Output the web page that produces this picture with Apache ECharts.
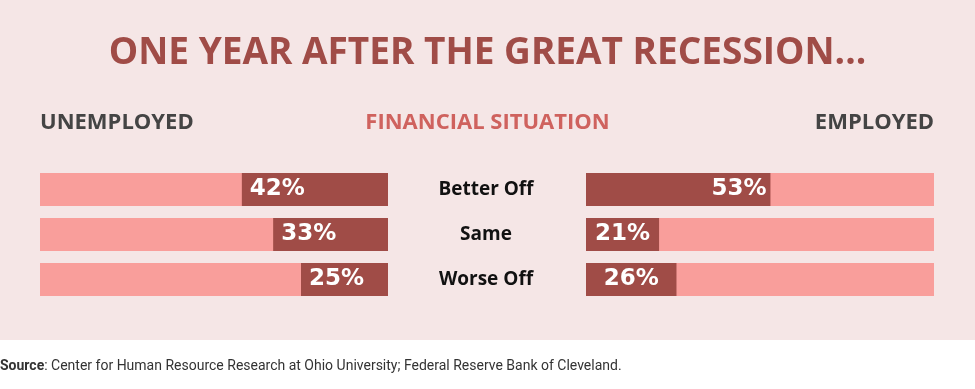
<!DOCTYPE html>
<html><head><meta charset="utf-8">
<script src="https://cdn.jsdelivr.net/npm/echarts@6/dist/echarts.min.js"></script>
<style>html,body{margin:0;padding:0;background:#fff}#c{width:975px;height:389px}</style>
</head><body><div id="c"></div>
<script>
const categories = ['Better Off', 'Same', 'Worse Off'];
const unemployed = [42, 33, 25];
const employed = [53, 21, 26];
const titleText = 'ONE YEAR AFTER THE GREAT RECESSION...';
const sourceText = 'Center for Human Resource Research at Ohio University; Federal Reserve Bank of Cleveland.';

const DARK = '#a04c47', LIGHT = '#f99e9b', BG = '#f5e6e6';
const pctLabel = {show: true, color: '#fff', fontFamily: 'DejaVu Sans', fontWeight: 'bold', fontSize: 23, formatter: '{c}%'};

const chart = echarts.init(document.getElementById('c'));
chart.setOption({
  backgroundColor: '#fff',
  animation: false,
  graphic: [
    {type: 'rect', z: -10, shape: {x: 0, y: 0, width: 975, height: 340}, style: {fill: BG}},
    {type: 'text', left: 'center', top: 35, style: {text: titleText, fill: DARK, font: 'bold 37px "Open Sans"'}},
    {type: 'text', left: 40, top: 112, style: {text: 'UNEMPLOYED', fill: '#444', font: 'bold 22px "Open Sans"'}},
    {type: 'text', left: 'center', top: 112, style: {text: 'FINANCIAL SITUATION', fill: '#cf625e', font: 'bold 22px "Open Sans"'}},
    {type: 'text', right: 41, top: 112, style: {text: 'EMPLOYED', fill: '#444', font: 'bold 22px "Open Sans"'}},
    {type: 'text', left: 0, top: 359, style: {text: '{b|Source}: ' + sourceText, fill: '#333', font: '14px "Roboto"',
      rich: {b: {fontWeight: 'bold', fontFamily: 'Roboto', fontSize: 14, fill: '#333'}}}}
  ],
  grid: [
    {left: 40, width: 348, top: 167, height: 135},
    {left: 586, width: 348, top: 167, height: 135}
  ],
  xAxis: [
    {gridIndex: 0, type: 'value', min: 0, max: 100, inverse: true, show: false},
    {gridIndex: 1, type: 'value', min: 0, max: 100, show: false}
  ],
  yAxis: [
    {gridIndex: 0, type: 'category', data: categories, inverse: true, show: false},
    {gridIndex: 1, type: 'category', data: categories, inverse: true,
      axisLine: {show: false}, axisTick: {show: false},
      axisLabel: {align: 'center', margin: 100, color: '#111', fontFamily: 'Open Sans', fontWeight: 'bold', fontSize: 19}}
  ],
  series: [
    {type: 'bar', xAxisIndex: 0, yAxisIndex: 0, barWidth: 33, showBackground: true,
      backgroundStyle: {color: LIGHT}, itemStyle: {color: DARK},
      label: Object.assign({}, pctLabel, {position: 'insideLeft', distance: 8}),
      data: unemployed},
    {type: 'bar', xAxisIndex: 1, yAxisIndex: 1, barWidth: 33, showBackground: true,
      backgroundStyle: {color: LIGHT}, itemStyle: {color: DARK},
      label: pctLabel,
      data: employed.map((v, i) => i === 0
        ? {value: v, label: {position: 'insideRight', distance: 4}}
        : {value: v, label: {position: 'inside'}})}
  ]
});
</script></body></html>
